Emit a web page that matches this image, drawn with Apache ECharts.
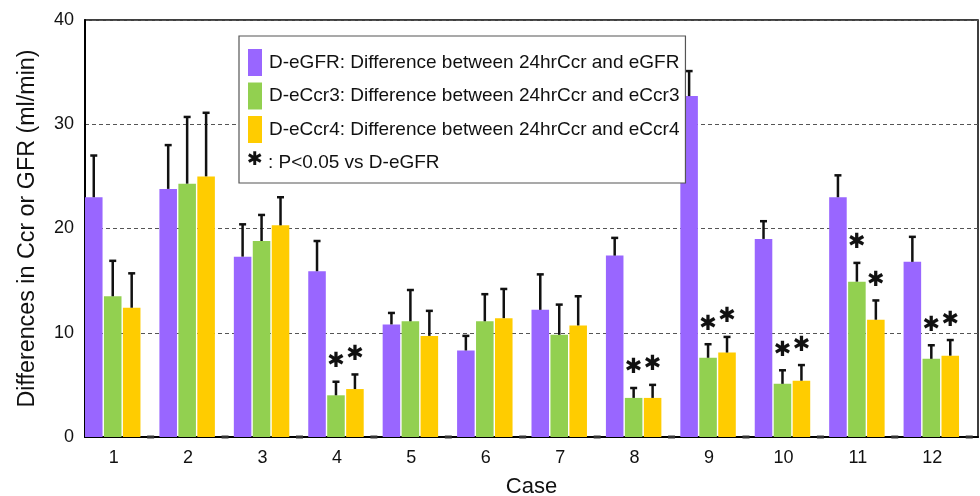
<!DOCTYPE html>
<html>
<head>
<meta charset="utf-8">
<script src="https://cdn.jsdelivr.net/npm/echarts@6/dist/echarts.min.js"></script>
<style>
  html, body { margin: 0; padding: 0; background: #fff; }
  #main { width: 980px; height: 496px; }
</style>
</head>
<body>
<div id="main"></div>
<script>
// case labels
var cases = ["1", "2", "3", "4", "5", "6", "7", "8", "9", "10", "11", "12"];
var yTicks = [0, 10, 20, 30, 40];

// bar heights (ml/min)
var dEGFR = [23.0, 23.8, 17.3, 15.9, 10.8, 8.3, 12.2, 17.4, 32.7, 19.0, 23.0, 16.8];
var dECcr3 = [13.5, 24.3, 18.8, 4.0, 11.1, 11.1, 9.8, 3.75, 7.6, 5.1, 14.9, 7.5];
var dECcr4 = [12.4, 25.0, 20.3, 4.6, 9.7, 11.4, 10.7, 3.75, 8.1, 5.4, 11.25, 7.8];

// error bar (SD) lengths
var sdEGFR = [4.0, 4.2, 3.1, 2.9, 1.1, 1.4, 3.4, 1.7, 2.4, 1.7, 2.1, 2.4];
var sdECcr3 = [3.4, 6.4, 2.5, 1.3, 3.0, 2.6, 2.9, 0.95, 1.3, 1.3, 1.8, 1.3];
var sdECcr4 = [3.3, 6.1, 2.7, 1.4, 2.4, 2.8, 2.8, 1.25, 1.5, 1.5, 1.85, 1.5];

// P<0.05 vs D-eGFR
var sigEGFR = [0, 0, 0, 0, 0, 0, 0, 0, 0, 0, 0, 0];
var sigECcr3 = [0, 0, 0, 1, 0, 0, 0, 1, 1, 1, 1, 1];
var sigECcr4 = [0, 0, 0, 1, 0, 0, 0, 1, 1, 1, 1, 1];

// empty 4th slot in each case
var spacer = [0, 0, 0, 0, 0, 0, 0, 0, 0, 0, 0, 0];

var names = [
  "D-eGFR: Difference between 24hrCcr and eGFR",
  "D-eCcr3: Difference between 24hrCcr and eCcr3",
  "D-eCcr4: Difference between 24hrCcr and eCcr4"
];
var colors = ["#9966ff", "#92d050", "#ffcc00"];
var GAP = 0.08;
var FONT = "Liberation Sans";

var values = [dEGFR, dECcr3, dECcr4];
var sds = [sdEGFR, sdECcr3, sdECcr4];
var sigs = [sigEGFR, sigECcr3, sigECcr4];

var errData = [];
for (var s = 0; s < 3; s++) {
  for (var i = 0; i < cases.length; i++) {
    errData.push([i, s, values[s][i], sds[s][i], sigs[s][i]]);
  }
}
for (var i = 0; i < cases.length; i++) {
  errData.push([i, 3, spacer[i], 0, 0]);
}

function renderErr(params, api) {
  var i = api.value(0), s = api.value(1), v = api.value(2), sd = api.value(3), sig = api.value(4);
  var band = api.size([1, 0])[0];
  var bw = band / (4 + 3 * GAP);
  var x = api.coord([i, 0])[0] - band / 2 + s * bw * (1 + GAP) + bw / 2;
  var y0 = api.coord([i, v])[1];
  if (s === 3) {
    return {
      type: "rect",
      shape: { x: x - 3.5, y: y0 - 1.5, width: 7, height: 3 },
      style: { fill: "#333" }
    };
  }
  var y1 = api.coord([i, v + sd])[1];
  var children = [
    { type: "line", shape: { x1: x, y1: y0, x2: x, y2: y1 }, style: { stroke: "#111", lineWidth: 2.5 } },
    { type: "line", shape: { x1: x - 3.5, y1: y1, x2: x + 3.5, y2: y1 }, style: { stroke: "#111", lineWidth: 2.5 } }
  ];
  if (sig) {
    children.push({
      type: "text",
      style: {
        text: "\u2731", x: x, y: y1 - 20, align: "center", verticalAlign: "middle",
        font: "bold 21px 'DejaVu Sans'", fill: "#111"
      }
    });
  }
  return { type: "group", children: children };
}

var chart = echarts.init(document.getElementById("main"));

var series = [];
for (var s = 0; s < 3; s++) {
  series.push({
    name: names[s],
    type: "bar",
    data: values[s],
    barGap: (GAP * 100) + "%",
    barCategoryGap: "0%",
    itemStyle: { color: colors[s] },
    silent: true
  });
}
series.push({
  name: "spacer",
  type: "bar",
  data: spacer,
  barGap: (GAP * 100) + "%",
  barCategoryGap: "0%",
  itemStyle: { color: "transparent" },
  silent: true
});
series.push({
  type: "custom",
  renderItem: renderErr,
  data: errData,
  encode: { x: 0, y: 2 },
  z: 5,
  silent: true
});

chart.setOption({
  animation: false,
  textStyle: { fontFamily: FONT },
  grid: {
    left: 85, right: 2, top: 20, bottom: 59,
    containLabel: false,
    outerBoundsMode: "none",
    show: true, borderColor: "#000", borderWidth: 1.5
  },
  legend: {
    data: names,
    orient: "vertical",
    left: 239, top: 36,
    padding: [13, 6, 40, 9],
    itemWidth: 14, itemHeight: 27, itemGap: 6.5,
    icon: "rect",
    backgroundColor: "#fff",
    borderColor: "#555", borderWidth: 1.2,
    textStyle: { fontFamily: FONT, fontSize: 19, color: "#111", padding: [0, 0, 0, 2] },
    selectedMode: false,
    z: 10
  },
  graphic: [
    { type: "text", left: 247, top: 151, z: 20, style: { text: "\u2731", font: "bold 19px 'DejaVu Sans'", fill: "#111" } },
    { type: "text", left: 268, top: 153, z: 20, style: { text: ": P<0.05 vs D-eGFR", font: "19px 'Liberation Sans'", fill: "#111" } }
  ],
  xAxis: {
    type: "category",
    data: cases,
    name: "Case",
    nameLocation: "middle",
    nameGap: 39,
    nameTextStyle: { fontFamily: FONT, fontSize: 22, color: "#111" },
    axisLine: { lineStyle: { color: "#000", width: 2 } },
    axisTick: { show: false },
    axisLabel: {
      margin: 12,
      formatter: function (v) { return "{a|" + v + "}"; },
      rich: { a: { fontFamily: FONT, fontSize: 18, color: "#111", padding: [0, 17, 0, 0] } }
    }
  },
  yAxis: {
    type: "value",
    min: yTicks[0], max: yTicks[yTicks.length - 1], interval: 10,
    name: "Differences in Ccr or GFR (ml/min)",
    nameLocation: "middle",
    nameGap: 46,
    nameTextStyle: { fontFamily: FONT, fontSize: 23.3, color: "#111" },
    axisLine: { show: true, lineStyle: { color: "#000", width: 2 } },
    axisTick: { show: false },
    axisLabel: { margin: 11, fontFamily: FONT, fontSize: 18, color: "#111" },
    splitLine: { show: true, lineStyle: { color: "#555", type: [4, 3], width: 1 } }
  },
  series: series
});
</script>
</body>
</html>
